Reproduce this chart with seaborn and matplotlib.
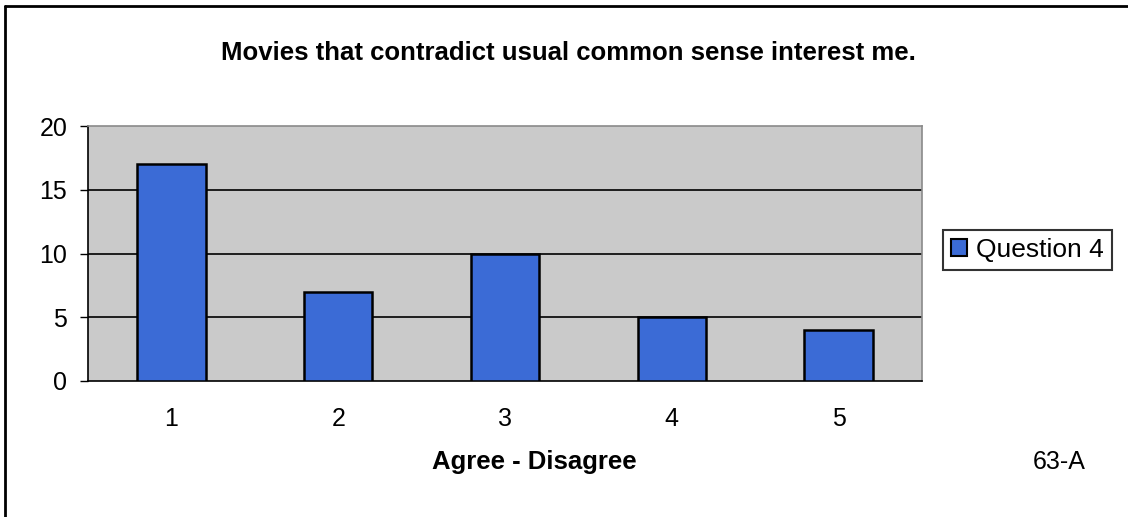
import matplotlib
matplotlib.use("Agg")
import matplotlib.pyplot as plt
from matplotlib.lines import Line2D
from matplotlib.patches import Patch
import seaborn as sns
import pandas as pd

categories = ["1", "2", "3", "4", "5"]
values = [17, 7, 10, 5, 4]
series_name = "Question 4"
title = "Movies that contradict usual common sense interest me."
xlabel = "Agree - Disagree"
note = "63-A"
yticks = [0, 5, 10, 15, 20]

sns.set_style("white")
plt.rcParams["font.family"] = ["Liberation Sans", "DejaVu Sans"]
plt.rcParams["text.color"] = "black"
plt.rcParams["xtick.color"] = "black"
plt.rcParams["ytick.color"] = "black"
plt.rcParams["axes.labelcolor"] = "black"

W, H = 1128, 517
fig = plt.figure(figsize=(W / 100, H / 100), dpi=100)
fig.patch.set_facecolor("white")

L, R, T, B = 88, 922, 126, 381
ax = fig.add_axes([L / W, 1 - B / H, (R - L) / W, (B - T) / H])
ax.set_facecolor("#cacaca")

df = pd.DataFrame({"cat": categories, "val": values})
bar_color = "#3b6bd6"
sns.barplot(data=df, x="cat", y="val", color=bar_color, saturation=1,
            edgecolor="black", linewidth=1.8, width=0.41, ax=ax, zorder=3)

ax.set_ylim(0, 20)
ax.set_xlim(-0.5, len(categories) - 0.5)
ax.set_yticks(yticks)
ax.set_yticklabels([str(v) for v in yticks], fontsize=18)
for v in yticks[1:-1]:
    ax.axhline(v, color="black", lw=1.2, zorder=1)

ax.set_xticks(range(len(categories)))
ax.set_xticklabels(categories, fontsize=18)
ax.tick_params(axis="x", which="major", length=0, pad=19)
ax.set_xticks([i - 0.5 for i in range(len(categories) + 1)], minor=True)
ax.tick_params(axis="x", which="minor", length=5, width=1, direction="out", color="black")
ax.tick_params(axis="y", length=6, width=1, direction="out", color="black", pad=9, left=True)

ax.set_xlabel("")
ax.set_ylabel("")

for s in ["left", "bottom"]:
    ax.spines[s].set_color("black")
    ax.spines[s].set_linewidth(1.2)
for s in ["top", "right"]:
    ax.spines[s].set_color("#8a8a8a")
    ax.spines[s].set_linewidth(1.2)
    ax.spines[s].set_visible(True)

fig.text(568 / W, 1 - 53 / H, title, fontsize=18.5, fontweight="bold",
         ha="center", va="center")
fig.text(534 / W, 1 - 462 / H, xlabel, fontsize=18.5, fontweight="bold",
         ha="center", va="center")
fig.text(1059 / W, 1 - 462 / H, note, fontsize=18, ha="center", va="center")

# outer frame (top and left)
fig.add_artist(Line2D([5 / W, 1.0], [1 - 6 / H, 1 - 6 / H], transform=fig.transFigure,
                      color="black", lw=2))
fig.add_artist(Line2D([5 / W, 5 / W], [1 - 6 / H, 0.0], transform=fig.transFigure,
                      color="black", lw=2))

handle = Patch(facecolor=bar_color, edgecolor="black", linewidth=1.5)
leg = fig.legend([handle], [series_name], loc="center left",
                 bbox_to_anchor=(943 / W, 1 - 250 / H), fontsize=19,
                 frameon=True, fancybox=False, handlelength=0.6, handleheight=0.6,
                 handletextpad=0.35, borderpad=0.3, borderaxespad=0)
leg.get_frame().set_edgecolor("black")
leg.get_frame().set_linewidth(1.5)

fig.savefig("out.png", dpi=100)
